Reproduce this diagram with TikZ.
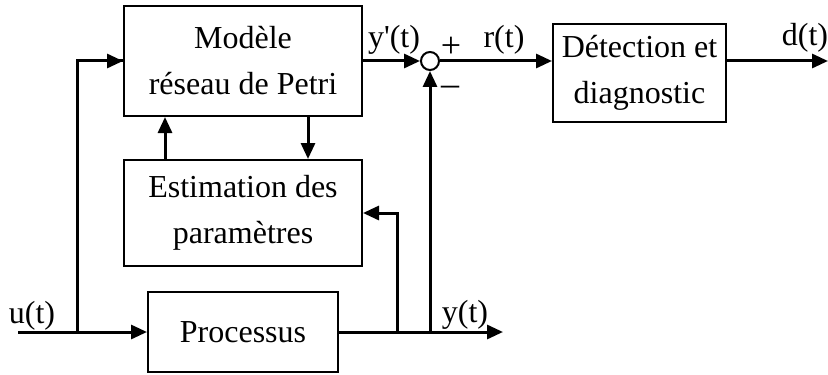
\documentclass[tikz,border=0pt]{standalone}
\usepackage{fontspec}
\setmainfont{Liberation Serif}
\usetikzlibrary{arrows.meta}

\begin{document}
\begin{tikzpicture}[x=0.5pt,y=-0.5pt,line width=1.5pt,->,>={Triangle[length=8pt,width=7pt]}]
	\tikzstyle{block}=[draw,line width=1pt,align=center,font=\fontsize{16}{23}\selectfont]
	\tikzstyle{sum}=[draw,shape=circle,line width=1pt,minimum size=9pt,inner sep=0pt]
	\tikzstyle{lbl}=[inner sep=0pt,font=\fontsize{16}{18}\selectfont]
	\tikzstyle{sgn}=[inner sep=0pt,font=\fontsize{18}{20}\selectfont]
	\useasboundingbox (0,0) rectangle (828,374);

	\node[block,minimum width=119pt,minimum height=55pt](model) at (243,61){Modèle\\réseau de Petri};
	\node[block,minimum width=119pt,minimum height=53pt](est) at (243,213){Estimation des\\paramètres};
	\node[block,minimum width=95pt,minimum height=40pt](proc) at (243,332){Processus};
	\node[block,minimum width=86.5pt,minimum height=49pt](det) at (639.5,73){Détection et\\diagnostic};
	\node[sum](s) at (430,61){};

	\coordinate (in) at (18,332);
	\coordinate (split) at (77,332);
	\coordinate (tapa) at (397,332);
	\coordinate (tapb) at (430,332);
	\coordinate (yout) at (503,332);
	\coordinate (dout) at (828,61);

	% entree u(t)
	\draw (in) -- (proc);
	\draw[-] (split) |- (model);
	\draw (split |- model) -- (model.west);
	\draw (model.east |- s) -- (s);
	\draw (s) -- (det.west |- s);
	\draw (det.east |- s) -- (dout);

	% sortie du processus
	\draw (proc) -- (yout);
	\draw (tapa) |- (est);
	\draw (tapb) -- (s);

	% echanges modele / estimation
	\draw ([xshift=-39pt]est.north) -- ([xshift=-39pt]model.south);
	\draw ([xshift=32.5pt]model.south) -- ([xshift=32.5pt]est.north);

	\node[lbl](lu) at (32,316){u(t)};
	\node[lbl](ly) at (465,315){y(t)};
	\node[lbl](lyp) at (394,40){y\textquotesingle(t)};
	\node[sgn](lplus) at (451,47){+};
	\node[sgn](lminus) at (450,91){–};
	\node[lbl](lr) at (504,40){r(t)};
	\node[lbl](ld) at (805,38){d(t)};
\end{tikzpicture}
\end{document}
